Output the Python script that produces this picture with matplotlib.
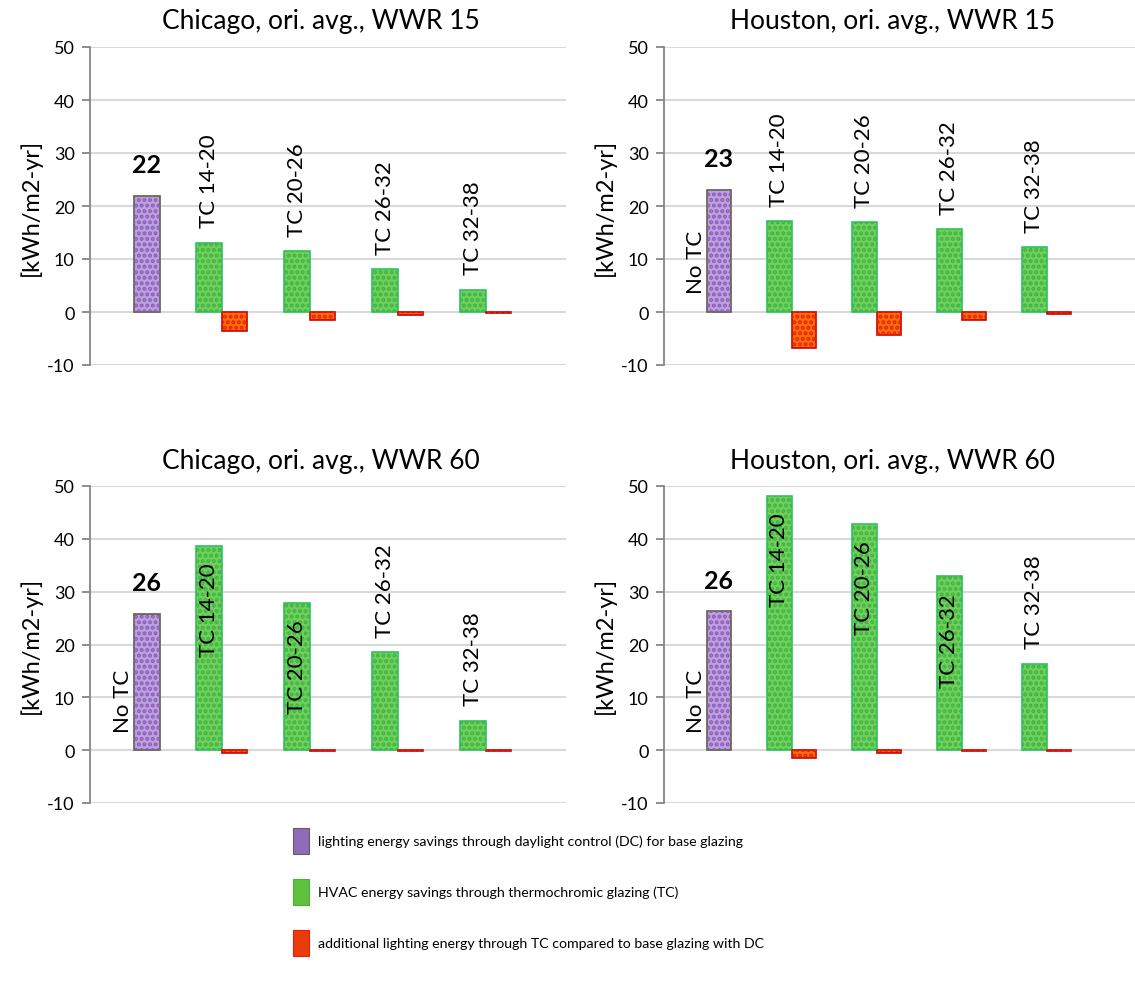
import matplotlib
matplotlib.use("Agg")
import matplotlib.pyplot as plt
from matplotlib.patches import Patch

plt.rcParams["font.family"] = ["Lato", "DejaVu Sans"]
plt.rcParams["hatch.linewidth"] = 2.0
plt.rcParams["axes.unicode_minus"] = False

W, H = 1135, 987

# ---------------------------
# data
# ---------------------------
categories = ["No TC", "TC 14-20", "TC 20-26", "TC 26-32", "TC 32-38"]
titles = [
    "Chicago, ori. avg., WWR 15",
    "Houston, ori. avg., WWR 15",
    "Chicago, ori. avg., WWR 60",
    "Houston, ori. avg., WWR 60",
]
daylight_savings = [21.9, 23.1, 25.8, 26.3]
daylight_labels = ["22", "23", "26", "26"]
hvac_savings = [
    [13.1, 11.5, 8.1, 4.2],
    [17.2, 17.0, 15.7, 12.3],
    [38.7, 27.9, 18.6, 5.6],
    [48.1, 42.9, 32.9, 16.4],
]
extra_lighting = [
    [-3.5, -1.6, -0.5, -0.1],
    [-6.7, -4.3, -1.6, -0.3],
    [-0.6, -0.2, -0.15, -0.1],
    [-1.4, -0.6, -0.15, -0.1],
]
show_no_tc = [False, True, True, True]
legend_labels = [
    "lighting energy savings through daylight control (DC) for base glazing",
    "HVAC energy savings through thermochromic glazing (TC)",
    "additional lighting energy through TC compared to base glazing with DC",
]

# colours: (face, dots, edge)
purple = ("#b9a3d9", "#9157c2", "#5f6040")
green = ("#70d05a", "#3fb347", "#2cc463")
red = ("#ff6a10", "#e02800", "#d00000")

# axes boxes in pixels: left, top, right, bottom ; xlim right
boxes = [
    (90, 48, 566, 366, 4.91),
    (664, 48, 1135, 366, 5.04),
    (90, 487, 566, 804, 4.91),
    (664, 487, 1135, 804, 5.04),
]
title_baseline = [29, 29, 469, 469]
bw = 0.29


def dotted_bar(ax, x, h, colors):
    face, dots, edge = colors
    ax.bar(x, h, bw, align="edge", color=face, edgecolor=edge, linewidth=1.2, zorder=2)
    ax.bar(x, h, bw, align="edge", facecolor="none", edgecolor=dots,
           hatch="...", linewidth=0, zorder=3)


fig = plt.figure(figsize=(W / 100, H / 100), dpi=100)

for k in range(4):
    l, t, r, b, xr = boxes[k]
    ax = fig.add_axes([l / W, 1 - b / H, (r - l) / W, (b - t) / H])
    ax.set_xlim(-0.5, xr)
    ax.set_ylim(-10, 50)
    ax.set_yticks(range(-10, 51, 10))
    ax.yaxis.grid(True, color="#d9d9d9", linewidth=1.5, zorder=0)
    ax.set_axisbelow(True)
    ax.set_xticks([])
    for s in ["top", "right", "bottom"]:
        ax.spines[s].set_visible(False)
    ax.spines["left"].set_color("#868686")
    ax.spines["left"].set_linewidth(1.3)
    ax.tick_params(axis="y", length=6, width=1.3, color="#868686",
                   labelsize=13, pad=5)
    ax.set_ylabel("[kWh/m2-yr]", fontsize=17, labelpad=4)

    # daylight control bar (category 0)
    dotted_bar(ax, 0, daylight_savings[k], purple)
    ax.annotate(daylight_labels[k], (bw / 2, daylight_savings[k]),
                xytext=(0, 14), textcoords="offset points",
                ha="center", va="bottom", fontsize=18, fontweight="bold")
    if show_no_tc[k]:
        ax.text(-0.12, 3.5, categories[0], rotation=90, ha="center",
                va="bottom", fontsize=16)

    for i in range(4):
        pos = i + 1
        hv = hvac_savings[k][i]
        dotted_bar(ax, pos - bw, hv, green)
        dotted_bar(ax, pos, extra_lighting[k][i], red)
        if hv > 20:
            ax.annotate(categories[pos], (pos - bw / 2, hv), xytext=(0, -12),
                        textcoords="offset points", rotation=90,
                        ha="center", va="top", fontsize=16)
        else:
            ax.annotate(categories[pos], (pos - bw / 2, hv), xytext=(0, 11),
                        textcoords="offset points", rotation=90,
                        ha="center", va="bottom", fontsize=16)

    fig.text(((l + r) / 2 - 7) / W, 1 - title_baseline[k] / H, titles[k],
             ha="center", va="baseline", fontsize=19)

handles = [
    Patch(facecolor="#8f6ab8", edgecolor="#5f5f5f", linewidth=0.8),
    Patch(facecolor="#5dc13e", edgecolor="#4caf30", linewidth=0.8),
    Patch(facecolor="#ec3a10", edgecolor="#e02000", linewidth=0.8),
]
fig.legend(handles, legend_labels, loc="upper left",
           bbox_to_anchor=(293 / W, 1 - 829 / H), frameon=False,
           fontsize=10.2, handlelength=1.15, handleheight=2.4,
           handletextpad=0.65, labelspacing=1.8, borderpad=0,
           borderaxespad=0)

fig.savefig("out.png", dpi=100)
